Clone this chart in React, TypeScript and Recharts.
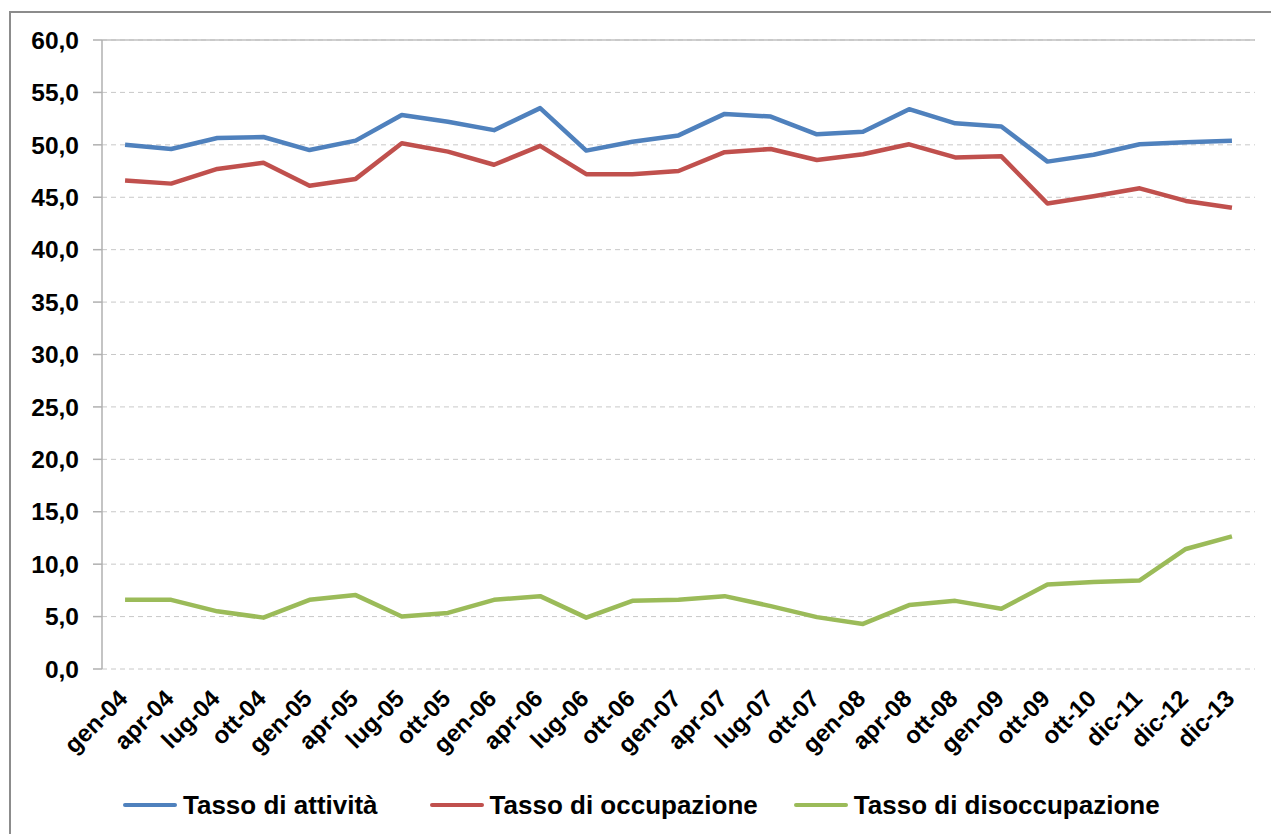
import React from 'react';
import { LineChart, Line, XAxis, YAxis, CartesianGrid, ReferenceLine, Legend } from 'recharts';

const categories = ['gen-04','apr-04','lug-04','ott-04','gen-05','apr-05','lug-05','ott-05','gen-06','apr-06','lug-06','ott-06','gen-07','apr-07','lug-07','ott-07','gen-08','apr-08','ott-08','gen-09','ott-09','ott-10','dic-11','dic-12','dic-13'];
const attivita = [50.0,49.6,50.65,50.75,49.5,50.4,52.85,52.2,51.4,53.5,49.45,50.3,50.9,52.95,52.7,51.0,51.25,53.4,52.05,51.75,48.4,49.05,50.05,50.25,50.4];
const occupazione = [46.6,46.3,47.7,48.3,46.1,46.75,50.15,49.35,48.1,49.9,47.2,47.2,47.5,49.3,49.6,48.55,49.1,50.05,48.8,48.9,44.4,45.1,45.85,44.65,44.0];
const disoccupazione = [6.6,6.6,5.5,4.9,6.6,7.05,5.0,5.35,6.6,6.95,4.9,6.5,6.6,6.95,6.0,4.95,4.3,6.1,6.5,5.75,8.05,8.3,8.45,11.45,12.65];
const yTicks = [0,5,10,15,20,25,30,35,40,45,50,55,60];
const seriesNames = ['Tasso di attività','Tasso di occupazione','Tasso di disoccupazione'];
const seriesColors = ['#4F81BD','#C0504D','#9BBB59'];

const data = categories.map((c, i) => ({
  x: i + 0.5,
  cat: c,
  attivita: attivita[i],
  occupazione: occupazione[i],
  disoccupazione: disoccupazione[i],
}));
const centerTicks = categories.map((_, i) => i + 0.5);
const edgeTicks = [...categories.map((_, i) => i), categories.length];

const FONT = '"Liberation Sans", Arial, sans-serif';
const AXIS = '#b0b0b0';

const XTick = (props: any) => {
  const { x, y, payload } = props;
  const label = categories[Math.floor(payload.value)];
  return (
    <g transform={`translate(${x + 4},${y + 31})`}>
      <text transform="rotate(-45)" textAnchor="end" fontFamily={FONT} fontWeight="bold" fontSize={24} fill="#000">
        {label}
      </text>
    </g>
  );
};

const itemGaps = [52, 36, 0];

const LegendContent = () => (
  <div style={{ display: 'flex', alignItems: 'center', paddingLeft: 123, fontFamily: FONT, fontWeight: 'bold', fontSize: 26, color: '#000' }}>
    {seriesNames.map((n, i) => (
      <div key={n} style={{ display: 'flex', alignItems: 'center', marginRight: itemGaps[i] }}>
        <div style={{ width: 54, height: 4, background: seriesColors[i], borderRadius: 2, marginRight: 6 }} />
        <span style={{ lineHeight: '30px' }}>{n}</span>
      </div>
    ))}
  </div>
);

export default function App() {
  return (
    <div style={{ position: 'absolute', left: 0, top: 0, width: 1271, height: 834, background: '#fff', overflow: 'hidden' }}>
      <div style={{ position: 'absolute', left: 9, top: 11, width: 1300, height: 900, borderLeft: '2px solid #8c8c8c', borderTop: '2px solid #8c8c8c' }} />
      <div style={{ position: 'absolute', left: 0, top: 0 }}>
        <LineChart width={1271} height={834} data={data} margin={{ top: 40, right: 16, left: 0, bottom: 55 }}>
          <CartesianGrid xAxisId="c" yAxisId="l" vertical={false} stroke="#c8c8c8" strokeDasharray="5 4" />
          <XAxis xAxisId="e" type="number" domain={[0, categories.length]} ticks={edgeTicks} interval={0} allowDataOverflow
            height={0} tickSize={7} tickFormatter={() => ''} axisLine={{ stroke: AXIS, strokeWidth: 1.5 }} tickLine={{ stroke: AXIS, strokeWidth: 1.5 }} />
          <XAxis xAxisId="c" type="number" dataKey="x" domain={[0, categories.length]} ticks={centerTicks} interval={0} allowDataOverflow
            height={110} tickSize={0} tickMargin={0} axisLine={false} tickLine={false} tick={<XTick />} />
          <YAxis yAxisId="l" domain={[0, 60]} ticks={yTicks} interval={0} width={102} tickSize={9} tickMargin={14}
            tickFormatter={(v: number) => v.toFixed(1).replace('.', ',')}
            tick={{ fontFamily: FONT, fontWeight: 'bold', fontSize: 24.5, fill: '#000' }}
            axisLine={{ stroke: AXIS, strokeWidth: 1.5 }} tickLine={{ stroke: AXIS, strokeWidth: 1.5 }} />
          <YAxis yAxisId="r" orientation="right" domain={[0, 60]} width={0} tick={false} tickLine={false}
            axisLine={{ stroke: '#c0c0c0', strokeWidth: 1.5 }} />
          <ReferenceLine xAxisId="c" yAxisId="l" y={60} stroke="#c0c0c0" strokeWidth={1.5} />
          <Legend verticalAlign="middle" align="center" layout="horizontal" content={<LegendContent />}
            wrapperStyle={{ top: 790, left: 0, width: 1271 }} />
          <Line xAxisId="c" yAxisId="l" type="linear" dataKey="attivita" name={seriesNames[0]} stroke={seriesColors[0]} strokeWidth={4.5} dot={false} isAnimationActive={false} strokeLinejoin="round" />
          <Line xAxisId="c" yAxisId="l" type="linear" dataKey="occupazione" name={seriesNames[1]} stroke={seriesColors[1]} strokeWidth={4.5} dot={false} isAnimationActive={false} strokeLinejoin="round" />
          <Line xAxisId="c" yAxisId="l" type="linear" dataKey="disoccupazione" name={seriesNames[2]} stroke={seriesColors[2]} strokeWidth={4.5} dot={false} isAnimationActive={false} strokeLinejoin="round" />
        </LineChart>
      </div>
    </div>
  );
}
